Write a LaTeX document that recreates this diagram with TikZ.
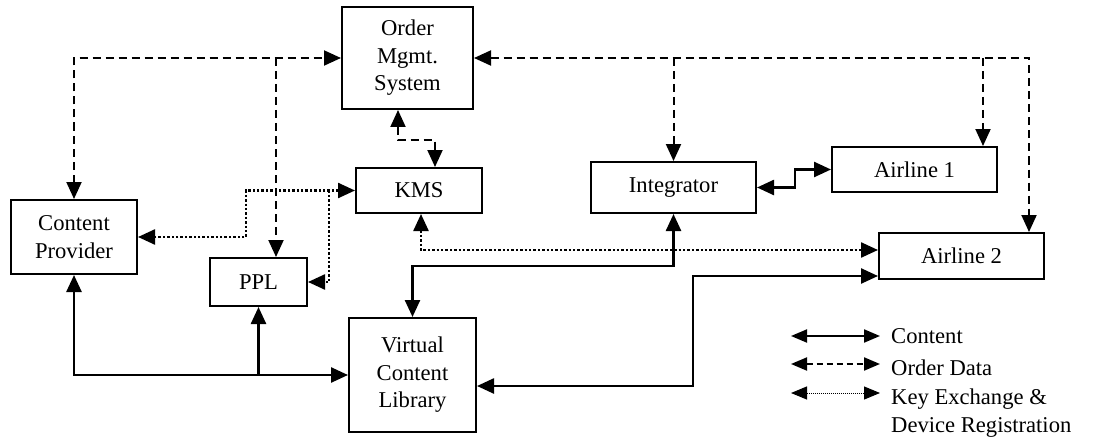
\documentclass[tikz,border=0pt]{standalone}
\usepackage{fontspec}
\setmainfont{Liberation Serif}
\usetikzlibrary{arrows.meta}
\begin{document}
\begin{tikzpicture}[x=1pt,y=-1pt,
  box/.style={draw,line width=2pt,inner sep=0pt,align=center,font=\fontsize{22.6}{27.5}\selectfont},
  ct/.style={line width=2.5pt},
  od/.style={line width=2pt,dash pattern=on 8pt off 5pt},
  kx/.style={line width=2.4pt,dash pattern=on 2.4pt off 2pt},
  lt/.style={anchor=base west,inner sep=0pt,font=\fontsize{22.6}{27}\selectfont},
  lg/.style={{Triangle[length=16pt,width=13pt]}-{Triangle[length=16pt,width=13pt]}},
  >={Triangle[length=17pt,width=15pt]}]
\useasboundingbox (0,0) rectangle (1102,441);
% boxes
\node[box,minimum width=131pt,minimum height=102pt] (oms) at (407.5,58) {Order\\Mgmt.\\System};
\node[box,minimum width=126pt,minimum height=45pt] (kms) at (419,190.5) {KMS};
\node[box,minimum width=126pt,minimum height=74pt] (cp) at (74,237) {Content\\Provider};
\node[box,minimum width=97pt,minimum height=48pt] (ppl) at (258.5,282) {PPL};
\node[box,minimum width=127pt,minimum height=114pt] (vcl) at (412.5,375) {Virtual\\Content\\Library};
\node[box,minimum width=165pt,minimum height=51pt] (int) at (673.5,187.5) {Integrator};
\node[box,minimum width=165pt,minimum height=45pt] (a1) at (914.5,169.5) {Airline 1};
\node[box,minimum width=165pt,minimum height=46pt] (a2) at (961.5,256) {Airline 2};
% order data (dashed)
\coordinate (pplj) at (276,58);
\coordinate (rj) at (1029,58);
\coordinate (a1j) at (983,58);
\draw[od,<->] (cp.north) |- (oms.west);
\draw[od,->] (pplj) -- (pplj |- ppl.north);
\draw[od,<->] (oms.east) -- (rj) -- (rj |- a2.north);
\draw[od,->] (int.north |- oms.east) -- (int.north);
\draw[od,->] (a1j) -- (a1j |- a1.north);
\draw[od,<->] ([xshift=-9.5pt]oms.south) -- ++(0,30) -| ([xshift=16pt]kms.north);
% key exchange (dotted)
\coordinate (d1) at (246,0);
\coordinate (d2) at (329,0);
\draw[kx,<->] (kms.west) -| (d1 |- cp.east) -- (cp.east);
\draw[kx,->] (d2 |- kms.west) |- (ppl.east);
\draw[kx,<->] ([xshift=2pt]kms.south) |- ([yshift=6pt]a2.west);
% content (solid)
\coordinate (s1) at (693,0);
\draw[ct,<->] (int.south) -- ++(0,52) -| (vcl.north);
\draw[ct,<->] (int.east) -- ++(38,0) |- (a1.west);
\draw[ct,<->] ([yshift=-11pt]vcl.east) -- ([yshift=-11pt]vcl.east -| s1) |- ([yshift=-20pt]a2.west);
\draw[ct,<->] (cp.south) |- (vcl.west);
\draw[ct,->] (ppl.south |- vcl.west) -- (ppl.south);
% legend
\coordinate (l1a) at (791,336); \coordinate (l1b) at (880,336);
\coordinate (l2a) at (791,364); \coordinate (l2b) at (880,364);
\coordinate (l3a) at (791,393); \coordinate (l3b) at (880,393);
\draw[line width=2pt,lg] (l1a) -- (l1b);
\draw[line width=2pt,dash pattern=on 6pt off 4pt,lg] (l2a) -- (l2b);
\draw[line width=1pt,dash pattern=on 1pt off 1pt,lg] (l3a) -- (l3b);
\node[lt] (t1) at (891,343) {Content};
\node[lt] (t2) at (891,375.5) {Order Data};
\node[lt] (t3) at (891,404) {Key Exchange \&};
\node[lt] (t4) at (891,432) {Device Registration};
\end{tikzpicture}
\end{document}
